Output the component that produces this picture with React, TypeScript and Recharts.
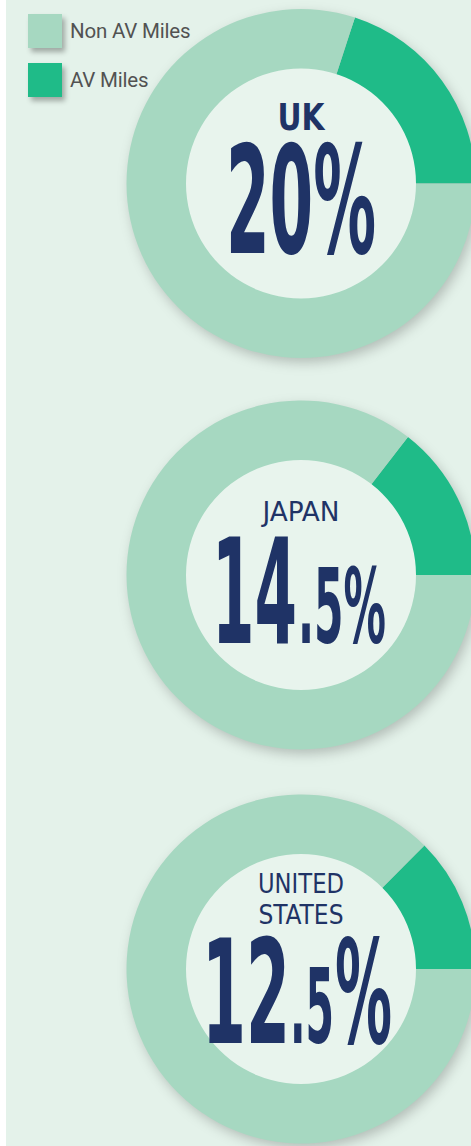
import React from 'react'
import { PieChart, Pie, Cell, Legend, Label } from 'recharts'

// share of miles driven by AVs, per country (%)
const countries = ['UK', 'JAPAN', 'UNITED STATES']
const avMiles = [20, 14.5, 12.5]
const nonAvMiles = [80, 85.5, 87.5]
const seriesNames = ['AV Miles', 'Non AV Miles']
const legendNames = ['Non AV Miles', 'AV Miles']

const AV_COLOR = '#1fbb88'
const NON_AV_COLOR = '#a6d8c1'
const NAVY = '#1f3366'
const HOLE = '#e8f4ed'
const BG = '#e4f2ea'

// donut centres down the page
const centersY = [183.5, 575, 969]

const cond = { fontFamily: '"DejaVu Sans", sans-serif', fontStretch: 'condensed' as const }
const squeeze = 'spacingAndGlyphs'

const CenterText = ({ viewBox, index }: any) => {
  const cx = viewBox?.cx ?? 301
  const cy = viewBox?.cy ?? centersY[index]
  if (index === 0) {
    return (
      <text fill={NAVY} style={cond} fontWeight={700}>
        <tspan x={cx} y={cy - 53.5} textAnchor="middle" fontSize={38} textLength={47} lengthAdjust={squeeze}>UK</tspan>
        <tspan x={cx} y={cy + 69.5} textAnchor="middle" fontSize={150} textLength={150} lengthAdjust={squeeze}>20%</tspan>
      </text>
    )
  }
  if (index === 1) {
    return (
      <text fill={NAVY} style={cond}>
        <tspan x={cx} y={cy - 54} textAnchor="middle" fontSize={26} textLength={77} lengthAdjust={squeeze}>JAPAN</tspan>
        <tspan x={cx - 89} y={cy + 68} fontSize={146} fontWeight={700} textLength={85} lengthAdjust={squeeze}>14</tspan>
        <tspan x={cx - 3} y={cy + 68} fontSize={103} fontWeight={700} textLength={88} lengthAdjust={squeeze}>.5%</tspan>
      </text>
    )
  }
  return (
    <text fill={NAVY} style={cond}>
      <tspan x={cx} y={cy - 76} textAnchor="middle" fontSize={26} textLength={86} lengthAdjust={squeeze}>UNITED</tspan>
      <tspan x={cx} y={cy - 45} textAnchor="middle" fontSize={26} textLength={85} lengthAdjust={squeeze}>STATES</tspan>
      <tspan x={cx - 99} y={cy + 74} fontSize={145} fontWeight={700} textLength={88} lengthAdjust={squeeze}>12</tspan>
      <tspan x={cx - 11} y={cy + 74} fontSize={103} fontWeight={700} textLength={44} lengthAdjust={squeeze}>.5</tspan>
      <tspan x={cx + 34} y={cy + 74} fontSize={145} fontWeight={700} textLength={57} lengthAdjust={squeeze}>%</tspan>
    </text>
  )
}

const LegendBox = () => (
  <div style={{ display: 'flex', flexDirection: 'column', gap: 15 }}>
    {legendNames.map((name) => (
      <div key={name} style={{ display: 'flex', alignItems: 'center', height: 34 }}>
        <div
          style={{
            width: 34,
            height: 34,
            background: name === 'AV Miles' ? AV_COLOR : NON_AV_COLOR,
            boxShadow: '3px 4px 5px rgba(0,0,0,0.3)',
          }}
        />
        <span
          style={{
            marginLeft: 8,
            fontFamily: 'Roboto, sans-serif',
            fontWeight: 400,
            fontSize: 20.5,
            color: '#525252',
            letterSpacing: -0.2,
            whiteSpace: 'nowrap',
          }}
        >
          {name}
        </span>
      </div>
    ))}
  </div>
)

const App: React.FC = () => {
  return (
    <div style={{ position: 'absolute', left: 0, top: 0, width: 471, height: 1146, background: '#fff', overflow: 'hidden' }}>
      <div style={{ position: 'absolute', left: 6, top: 0, width: 465, height: 1146, background: BG }} />
      <style>{`.donut-shadow { filter: blur(4px); }`}</style>
      <PieChart
        width={471}
        height={1146}
        margin={{ top: 0, right: 0, bottom: 0, left: 0 }}
        style={{ position: 'absolute', left: 0, top: 0 }}
      >
        {/* soft shadow discs behind each donut */}
        {countries.map((country, i) => (
          <Pie
            key={country + '-shadow'}
            className="donut-shadow"
            data={[{ name: country, value: 100 }]}
            dataKey="value"
            cx={304}
            cy={centersY[i] + 5}
            innerRadius={0}
            outerRadius={174}
            fill="rgba(0,0,0,0.22)"
            stroke="none"
            isAnimationActive={false}
          />
        ))}
        {countries.map((country, i) => {
          const data = [
            { name: seriesNames[0], value: avMiles[i] },
            { name: seriesNames[1], value: nonAvMiles[i] },
          ]
          return (
            <Pie
              key={country}
              data={data}
              dataKey="value"
              nameKey="name"
              cx={301}
              cy={centersY[i]}
              innerRadius={114}
              outerRadius={174.5}
              startAngle={0}
              endAngle={360}
              stroke="none"
              isAnimationActive={false}
            >
              <Cell fill={AV_COLOR} />
              <Cell fill={NON_AV_COLOR} />
            </Pie>
          )
        })}
        {countries.map((country, i) => (
          <Pie
            key={country + '-hole'}
            data={[{ name: country, value: 1 }]}
            dataKey="value"
            cx={301}
            cy={centersY[i]}
            innerRadius={0}
            outerRadius={115}
            fill={HOLE}
            stroke="none"
            isAnimationActive={false}
          >
            <Label position="center" content={(props: any) => <CenterText {...props} index={i} />} />
          </Pie>
        ))}
        <Legend
          content={() => <LegendBox />}
          wrapperStyle={{ position: 'absolute', left: 28, top: 14, width: 'auto' }}
        />
      </PieChart>
    </div>
  )
}

export default App
